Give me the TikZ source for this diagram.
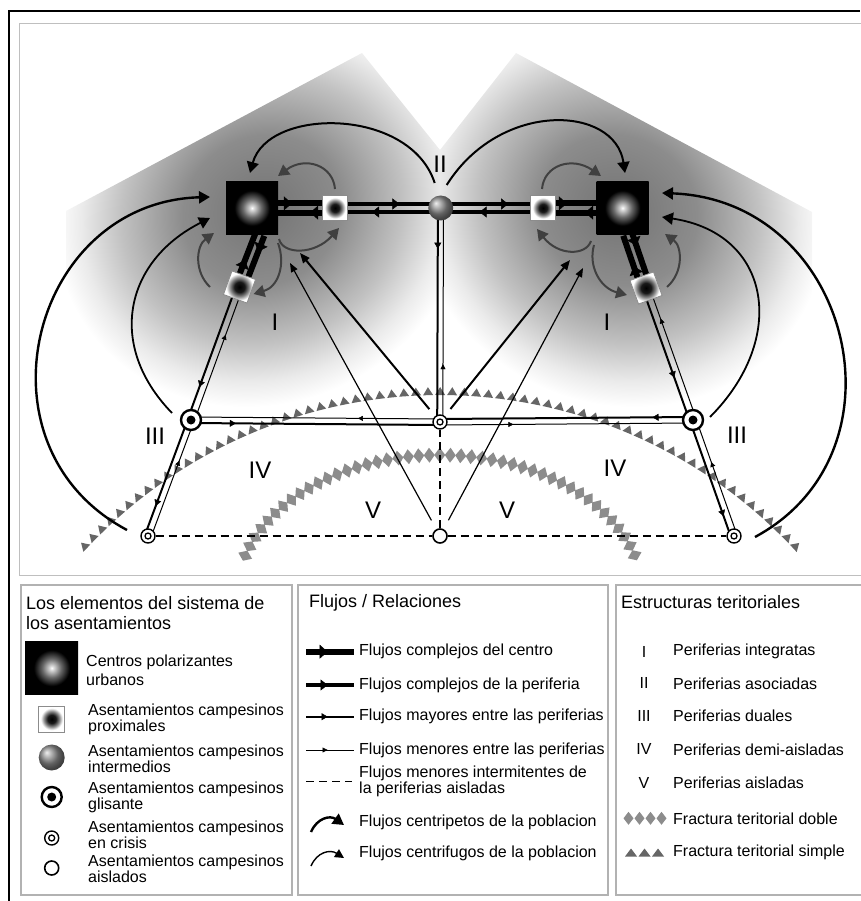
\documentclass[tikz,border=0pt]{standalone}
\usepackage{fontspec}
\setmainfont{Liberation Sans}
\usetikzlibrary{arrows.meta,calc,positioning,decorations.markings}

\pgfdeclareradialshading{urbglow}{\pgfpoint{0bp}{0bp}}{%
  color(0bp)=(white); color(2bp)=(black!15); color(9bp)=(black!60);
  color(17bp)=(black); color(50bp)=(black)}
\pgfdeclareradialshading{proxglow}{\pgfpoint{0bp}{0bp}}{%
  color(0bp)=(black); color(8bp)=(black!90); color(15bp)=(black!45);
  color(21bp)=(white); color(50bp)=(white)}
\pgfdeclareradialshading{halo}{\pgfpoint{0bp}{0bp}}{%
  color(0bp)=(black!55); color(9bp)=(black!45); color(16bp)=(black!24);
  color(20.5bp)=(black!8); color(23.5bp)=(white); color(50bp)=(white)}

\pgfdeclarelayer{fondo}
\pgfdeclarelayer{enlaces}
\pgfsetlayers{fondo,enlaces,main}

\tikzset{
  midtip/.style n args={3}{postaction={decorate,decoration={markings,
      mark=at position #1 with {\arrow{Triangle[length=#2,width=#3,line width=0.4pt]}}}}},
  centro/.style={line width=6pt, midtip={#1}{8pt}{14pt}}, centro/.default=0.5,
  perif/.style={line width=4.5pt, midtip={#1}{7pt}{11pt}}, perif/.default=0.5,
  mayor/.style={line width=2pt, midtip={#1}{6pt}{7pt}}, mayor/.default=0.5,
  menor/.style={line width=1pt, midtip={#1}{5pt}{5pt}}, menor/.default=0.5,
  intermit/.style={line width=1.3pt, dash pattern=on 8pt off 5pt},
  centripeto/.style={line width=2.4pt, -{Triangle[length=11pt,width=12pt]}},
  centrifugo/.style={line width=1.4pt, -{Triangle[length=9pt,width=9pt]}},
  vaiven/.style={black!75, line width=2pt, -{Triangle[length=11pt,width=12pt]}},
  largo/.style={line width=2pt, -{Triangle[length=10pt,width=8pt]}},
  corto/.style={line width=1.2pt, -{Triangle[length=9pt,width=7pt]}},
  urbano/.style={rectangle, minimum size=52pt, inner sep=0pt, shade, shading=urbglow},
  proximal/.style={rectangle, minimum size=25pt, inner sep=0pt, shade, shading=proxglow,
      draw=black!45, line width=0.8pt},
  intermedio/.style={circle, minimum size=25pt, inner sep=0pt, ball color=black!45},
  glisante/.style={circle, minimum size=20pt, inner sep=0pt, draw, line width=2.4pt, fill=white,
      path picture={\fill[black] (path picture bounding box.center) circle (4.5pt);}},
  crisis/.style={circle, minimum size=14pt, inner sep=0pt, draw, line width=1.4pt, fill=white,
      path picture={\draw[black, line width=1.3pt] (path picture bounding box.center) circle (3pt);}},
  aislado/.style={circle, minimum size=14pt, inner sep=0pt, draw, line width=1.6pt, fill=white},
  zona/.style={font=\fontsize{24}{24}\selectfont, inner sep=0pt},
  titulo/.style={font=\fontsize{18}{20}\selectfont, align=left, inner sep=0pt},
  item/.style={font=\fontsize{16}{14.5}\selectfont, align=left, inner sep=0pt},
  caja/.style={draw=black!30, line width=1.2pt},
  triang/.style={postaction={decorate}, decoration={markings,
      mark=between positions 0 and 1 step 12pt with {\fill[black!60] (-5pt,0pt) -- (5pt,0pt) -- (0pt,8pt) -- cycle;}}},
  rombos/.style={postaction={decorate}, decoration={markings,
      mark=between positions 0 and 1 step 10.5pt with {\fill[black!45] (-5.5pt,0pt) -- (0pt,7.5pt) -- (5.5pt,0pt) -- (0pt,-7.5pt) -- cycle;}}}
}

% two parallel flows: from, to, offset, style from->to, style to->from
\newcommand{\flowpair}[5]{%
  \draw[#4] ($(#1)!#3!90:(#2)$) -- ($(#2)!#3!-90:(#1)$);
  \draw[#5] ($(#2)!#3!90:(#1)$) -- ($(#1)!#3!-90:(#2)$);
}

\begin{document}
\begin{tikzpicture}[x=1pt,y=-1pt]
\useasboundingbox (0,0) rectangle (860,901);

% marco
\draw[line width=1.2pt] (9,901) -- (9,11) -- (860,11);
\draw[black!25, line width=1pt] (862,24) -- (19,24) -- (19,575) -- (862,575);

% asentamientos
\node[urbano] (urbL) at (252,208) {};
\node[urbano] (urbR) at (622.5,208) {};
\node[proximal] (proxL) at (335,208) {};
\node[proximal] (proxR) at (543,208) {};
\node[intermedio] (inter) at (440.7,208) {};
\node[proximal, rotate=-20] (proxLd) at (239.5,287) {};
\node[proximal, rotate=20] (proxRd) at (646,288) {};
\node[glisante] (gliL) at (191,420) {};
\node[glisante] (gliR) at (693,420) {};
\node[crisis] (criC) at (440,422) {};
\node[crisis] (criL) at (148,536) {};
\node[crisis] (criR) at (734,536) {};
\node[aislado] (aisl) at (440,536) {};

% sombra de las periferias
\begin{pgfonlayer}{fondo}
  \begin{scope}
    \clip (66,211) -- (362,53) -- (440,150) -- (440,575) -- (66,575) -- cycle;
    \begin{scope}[transform canvas={rotate around={28:(262,210)}}]
      \shade[shading=halo] (262,210) ellipse [x radius=225, y radius=205];
    \end{scope}
  \end{scope}
  \begin{scope}
    \clip (440,150) -- (516,53) -- (812,212) -- (812,575) -- (440,575) -- cycle;
    \begin{scope}[transform canvas={rotate around={-28:(618,210)}}]
      \shade[shading=halo] (618,210) ellipse [x radius=225, y radius=205];
    \end{scope}
  \end{scope}
  % fracturas
  \path[triang] plot[domain=43.1:137.8, samples=90] ({440-483.7*cos(\x)}, {878.7-483.7*sin(\x)});
  \path[rombos] plot[domain=16.3:163.7, samples=90] ({440-203*cos(\x)}, {595-140*sin(\x)});
\end{pgfonlayer}

% flujos entre asentamientos
\begin{pgfonlayer}{enlaces}
  \flowpair{urbL}{proxL}{4.6pt}{centro=0.48}{centro=0.3}
  \flowpair{proxL}{inter}{4pt}{perif=0.61}{perif=0.65}
  \flowpair{inter}{proxR}{4pt}{perif=0.66}{perif=0.62}
  \flowpair{proxR}{urbR}{4.6pt}{centro=0.3}{centro=0.47}
  \flowpair{urbL.-73}{proxLd}{4.6pt}{centro=0.3}{centro=0.48}
  \flowpair{urbR.-79}{proxRd}{4.6pt}{centro=0.24}{centro=0.43}
  \flowpair{proxLd}{gliL}{-3.4pt}{mayor=0.76}{menor=0.65}
  \flowpair{proxRd}{gliR}{-3.4pt}{mayor=0.67}{menor=0.76}
  \flowpair{gliL}{criL}{-3.2pt}{mayor=0.75}{menor=0.66}
  \flowpair{gliR}{criR}{-3.2pt}{mayor=0.82}{menor=0.63}
  \flowpair{gliL}{criC}{-3pt}{mayor=0.18}{menor=0.33}
  \flowpair{criC}{gliR}{-3pt}{menor=0.29}{mayor=0.16}
  \flowpair{inter}{criC}{-2.8pt}{mayor=0.19}{menor=0.27}
  \draw[intermit] (criL) -- (aisl) -- (criR);
  \draw[intermit] (aisl) -- (criC);
\end{pgfonlayer}

% flujos hacia los centros
\coordinate (finA) at (300,253);
\coordinate (finB) at (290,263);
\coordinate (finC) at (570,260);
\coordinate (finD) at (583,268);
\draw[largo, shorten <=9pt] (criC) -- (finA);
\draw[corto, shorten <=10pt] (aisl) -- (finB);
\draw[largo, shorten <=9pt] (criC) -- (finC);
\draw[corto, shorten <=10pt] (aisl) -- (finD);

% arcos de poblacion
\draw[centripeto] ($(criL)+(-21,-6)$) .. controls (-31,446) and (31,202) .. ($(urbL)+(-42,-11)$);
\draw[centripeto, line width=1.8pt] ($(gliL)+(-19,-7)$) .. controls (106,345) and (125,261) .. ($(urbL)+(-42,10)$);
\draw[centripeto] ($(criR)+(21,1)$) .. controls (913,452) and (851,200) .. ($(urbR)+(39.5,-15)$);
\draw[centripeto, line width=1.8pt] ($(gliR)+(17,-3)$) .. controls (788,339) and (772,233.5) .. ($(urbR)+(39.5,9)$);
\draw[centripeto, line width=2pt] ($(inter)+(-6,-25)$) .. controls (410,107) and (268,107) .. ($(urbL)+(-2,-35)$);
\draw[centripeto, line width=2pt] ($(inter)+(6,-23)$) .. controls (500,100) and (615,105) .. ($(urbR)+(2.5,-35)$);

\draw[vaiven] ($(proxLd)+(-29.5,0)$) .. controls (194,272) and (196,246) .. ($(urbL)+(-38,25)$);
\draw[vaiven] ($(proxL)+(0,-19)$) .. controls (333,165) and (305,156) .. ($(urbL)+(26,-32)$);
\draw[vaiven] ($(urbL)+(27,31)$) .. controls (283,255) and (315,255) .. ($(proxL)+(4,20)$);
\draw[vaiven] ($(urbL)+(26,35)$) .. controls (286,265) and (278,287) .. ($(proxLd)+(14,7)$);
\draw[vaiven] ($(proxRd)+(21,-1)$) .. controls (684,272) and (682,246) .. ($(urbR)+(42.5,26)$);
\draw[vaiven] ($(proxR)+(-1,-19)$) .. controls (544,165) and (572,156) .. ($(urbR)+(-21.5,-32)$);
\draw[vaiven] ($(urbR)+(-31.5,33)$) .. controls (586,256) and (558,256) .. ($(proxR)+(-6,21)$);
\draw[vaiven] ($(urbR)+(-28.5,37)$) .. controls (588,266) and (600,288) .. ($(proxRd)+(-19,7)$);

% estructuras
\node[zona] (zII) at (440,164) {II};
\node[zona] (zIa) at (275,322) {I};
\node[zona] (zIb) at (607,322) {I};
\node[zona] (zIIIa) at (155,436) {III};
\node[zona] (zIIIb) at (737,435) {III};
\node[zona] (zIVa) at (260,470) {IV};
\node[zona] (zIVb) at (615,468) {IV};
\node[zona] (zVa) at (373,510) {V};
\node[zona] (zVb) at (507,510) {V};

% leyenda: elementos
\draw[caja] (21,585) rectangle (292,895);
\node[titulo, anchor=west] (tElem) at (26,613) {Los elementos del sistema de\\los asentamientos};
\node[urbano, minimum size=53pt] (lgUrb) at (51.7,668) {};
\node[item, anchor=west, font=\fontsize{16}{19}\selectfont] (tUrb) at (86,670) {Centros polarizantes\\urbanos};
\node[proximal, minimum size=26pt] (lgProx) at (51.7,719) {};
\node[item, anchor=west] (tProx) at (88,719) {Asentamientos campesinos\\proximales};
\node[intermedio, minimum size=26pt] (lgInter) at (51.7,757.5) {};
\node[item, anchor=west] (tInter) at (88,759) {Asentamientos campesinos\\intermedios};
\node[glisante] (lgGli) at (51.7,797) {};
\node[item, anchor=west] (tGli) at (88,797) {Asentamientos campesinos\\glisante};
\node[crisis] (lgCri) at (51.7,838) {};
\node[item, anchor=west] (tCri) at (88,835) {Asentamientos campesinos\\en crisis};
\node[aislado] (lgAisl) at (51.7,868) {};
\node[item, anchor=west] (tAisl) at (88,869) {Asentamientos campesinos\\aislados};

% leyenda: flujos
\draw[caja] (298,585) rectangle (608,895);
\node[titulo, anchor=west] (tFlujos) at (309,603) {Flujos / Relaciones};
\foreach \y/\w/\l/\b/\t [count=\i] in {651.7/6/8/14/Flujos complejos del centro,
    685/4.5/7/11/Flujos complejos de la periferia,
    716.7/2/6/7/Flujos mayores entre las periferias,
    750/1/5/5/Flujos menores entre las periferias}{
  \draw[line width=\w pt, midtip={0.45}{\l pt}{\b pt}] (306,\y) -- (354,\y);
  \node[item, anchor=west] (flujo\i) at (359,\y) {\t};
}
\draw[intermit] (306,781.5) -- (352,781.5);
\node[item, anchor=west, font=\fontsize{16}{16}\selectfont] (flujo5) at (359,781) {Flujos menores intermitentes de\\la periferias aisladas};
\draw[centripeto] (311,832) .. controls (317,818) and (330,815) .. (344,825);
\node[item, anchor=west] (flujo6) at (359,822) {Flujos centripetos de la poblacion};
\draw[centrifugo] (311,866) .. controls (317,852) and (330,849) .. (344,858);
\node[item, anchor=west] (flujo7) at (359,853.3) {Flujos centrifugos de la poblacion};

% leyenda: estructuras
\draw[caja] (616,585) rectangle (862,895);
\node[titulo, anchor=west] (tEstr) at (621,602) {Estructuras teritoriales};
\foreach \y/\n/\t [count=\i] in {651.7/I/Periferias integratas, 683.3/II/Periferias asociadas,
    716/III/Periferias duales, 749.3/IV/Periferias demi-aisladas, 782.7/V/Periferias aisladas}{
  \node[item] (num\i) at (644,\y) {\n};
  \node[item, anchor=west] (est\i) at (673,\y) {\t};
}
\foreach \x in {628.5,639.5,650.5,661.5}
  \fill[black!45] (\x,811.8) -- (\x+5,818.3) -- (\x,824.8) -- (\x-5,818.3) -- cycle;
\node[item, anchor=west] (est6) at (673,818.3) {Fractura teritorial doble};
\foreach \x in {631,644.5,658}
  \fill[black!60] (\x-6,856.5) -- (\x+6,856.5) -- (\x,848.5) -- cycle;
\node[item, anchor=west] (est7) at (673,852.7) {Fractura teritorial simple};
\end{tikzpicture}
\end{document}
